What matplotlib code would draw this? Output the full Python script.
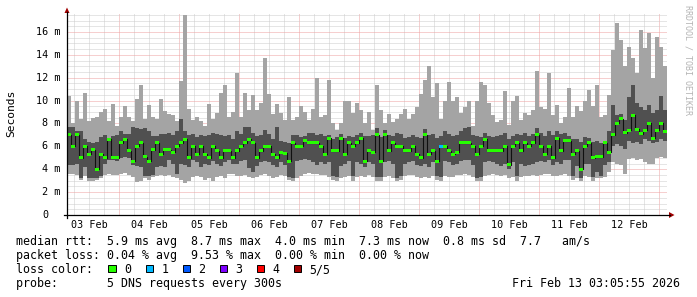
import numpy as np
import matplotlib
matplotlib.use('Agg')
import matplotlib.pyplot as plt
from matplotlib.patches import Polygon, Rectangle
from matplotlib.lines import Line2D

# ---------------- data (ms), one sample = 1.6 h, starting 03 Feb 03:12 ----------------
max_ms = [10.4, 8.0, 10.0, 8.4, 10.7, 8.2, 8.5, 8.6, 9.0, 9.3, 8.2, 9.7, 7.8, 8.6, 9.5, 8.6, 8.2, 10.1, 11.4, 8.4, 9.6, 8.6, 8.4, 10.1, 9.1,
          8.8, 8.7, 8.2, 11.7, 17.5, 9.3, 8.3, 8.6, 8.2, 7.8, 9.7, 8.4, 8.9, 10.7, 11.4, 8.6, 9.0, 12.4, 8.6, 10.7, 9.2, 10.5, 9.2, 9.8, 13.7,
          10.6, 8.8, 9.7, 8.9, 8.3, 10.3, 8.3, 8.6, 9.5, 9.0, 8.3, 9.3, 12.0, 8.6, 8.7, 11.8, 8.0, 7.4, 8.0, 10.0, 10.0, 8.9, 9.8, 9.2, 8.0,
          9.0, 7.4, 11.4, 9.2, 8.0, 8.8, 8.1, 8.4, 8.8, 9.3, 8.4, 8.8, 9.4, 10.6, 11.8, 13.0, 10.3, 11.5, 8.4, 10.0, 11.6, 10.0, 10.3, 8.9, 9.4,
          10.0, 7.8, 10.0, 11.6, 11.4, 9.8, 8.7, 8.1, 8.3, 10.8, 7.9, 10.0, 10.4, 8.3, 8.9, 8.7, 9.2, 12.6, 9.4, 9.3, 12.4, 8.7, 9.6, 8.0, 8.6,
          11.1, 8.6, 9.5, 9.1, 10.0, 10.9, 9.5, 11.4, 8.6, 8.7, 10.5, 14.4, 16.8, 15.3, 13.0, 14.7, 13.7, 12.4, 16.2, 14.6, 15.9, 12.0, 15.6, 14.7, 13.0]
upper_ms = [7.7, 7.7, 7.3, 7.3, 6.6, 6.4, 6.3, 6.4, 6.8, 7.0, 6.7, 6.9, 7.0, 7.3, 7.1, 7.1, 7.7, 7.6, 7.5, 7.6, 7.3, 6.9, 6.9, 7.1, 7.1,
            7.2, 7.0, 7.3, 8.4, 7.3, 7.0, 7.1, 6.8, 7.0, 6.9, 7.0, 7.2, 7.1, 7.0, 6.9, 7.0, 6.6, 7.3, 7.1, 7.7, 7.7, 7.2, 6.9, 7.0, 7.4,
            7.1, 6.6, 7.7, 6.5, 6.4, 6.3, 7.0, 7.0, 6.8, 6.9, 7.2, 7.2, 7.0, 7.1, 6.9, 7.0, 6.6, 6.8, 7.1, 6.7, 6.9, 6.8, 7.0, 7.2, 6.9,
            6.9, 7.0, 7.6, 6.8, 7.4, 7.0, 6.9, 7.2, 7.1, 6.7, 6.8, 7.0, 6.8, 6.7, 7.5, 7.0, 7.1, 6.7, 6.9, 7.3, 7.1, 6.9, 7.0, 7.3, 7.6,
            7.7, 7.0, 6.9, 6.8, 7.2, 6.9, 6.8, 6.9, 7.0, 7.2, 6.6, 6.9, 7.1, 7.0, 7.2, 6.9, 7.1, 7.6, 7.2, 6.9, 7.3, 7.0, 7.3, 7.1, 7.2,
            6.9, 6.6, 6.6, 6.4, 6.8, 6.7, 6.4, 6.5, 6.3, 6.5, 7.3, 9.6, 8.7, 8.8, 8.3, 10.3, 11.4, 9.8, 9.4, 9.2, 9.6, 8.9, 9.2, 10.4, 9.2]
median_ms = [7.0, 6.0, 7.0, 5.0, 6.0, 5.3, 5.7, 4.0, 5.3, 5.0, 6.6, 5.0, 5.0, 6.3, 6.6, 5.6, 4.7, 6.0, 6.3, 5.1, 4.7, 5.7, 6.3, 5.3, 5.7,
             5.7, 5.5, 6.0, 6.3, 6.6, 5.0, 6.0, 5.3, 6.0, 5.3, 5.0, 6.0, 5.6, 5.0, 5.6, 5.6, 5.0, 5.6, 6.0, 6.3, 6.6, 6.3, 5.0, 5.6, 6.0,
             6.0, 5.3, 5.0, 5.5, 5.4, 4.7, 6.3, 6.0, 6.0, 6.5, 6.3, 6.3, 6.3, 6.0, 5.3, 6.7, 5.6, 5.6, 6.7, 5.3, 6.3, 6.0, 6.3, 6.7, 4.7,
             5.6, 5.5, 7.0, 4.7, 7.0, 5.6, 6.3, 6.0, 6.0, 5.6, 5.6, 6.0, 5.3, 5.0, 7.0, 5.3, 5.6, 4.7, 6.0, 6.0, 5.6, 5.3, 5.5, 6.3, 6.3,
             6.3, 6.0, 5.3, 6.0, 6.6, 5.6, 5.6, 5.6, 5.6, 6.0, 4.4, 6.0, 6.3, 5.6, 6.3, 6.0, 6.3, 7.0, 6.0, 5.3, 6.0, 5.0, 6.7, 5.6, 6.5,
             6.5, 5.3, 5.6, 4.0, 6.0, 6.3, 5.0, 5.1, 5.1, 6.3, 5.5, 7.0, 8.0, 8.4, 7.2, 7.4, 8.7, 7.5, 7.1, 7.4, 8.0, 6.7, 7.4, 8.0, 7.3]
lower_ms = [4.4, 4.4, 4.5, 3.2, 4.2, 3.2, 3.2, 3.2, 3.4, 4.5, 4.8, 4.8, 4.7, 5.0, 5.1, 5.0, 4.4, 4.3, 4.2, 3.4, 3.4, 3.5, 4.2, 4.3, 4.2,
            4.8, 4.5, 3.6, 4.5, 4.4, 4.2, 4.8, 4.6, 4.2, 4.5, 4.4, 4.7, 4.5, 4.3, 4.6, 4.8, 4.5, 4.5, 4.7, 4.8, 4.1, 3.8, 4.3, 4.6, 4.7,
            4.6, 4.4, 4.2, 4.6, 4.4, 3.3, 3.2, 4.7, 4.8, 4.9, 4.8, 4.6, 4.4, 4.6, 4.5, 4.6, 3.4, 3.3, 4.3, 4.5, 4.7, 3.4, 4.6, 4.5, 4.2,
            4.6, 4.5, 3.3, 3.3, 4.6, 4.7, 4.5, 3.2, 3.4, 4.5, 4.6, 4.7, 4.4, 4.3, 4.5, 4.2, 4.6, 3.4, 3.3, 4.7, 4.6, 4.4, 4.5, 4.7, 4.8,
            4.8, 4.4, 3.2, 3.3, 4.6, 4.7, 4.6, 4.5, 4.3, 4.5, 4.0, 4.6, 3.4, 4.5, 4.3, 4.4, 4.5, 4.6, 4.7, 4.6, 4.8, 4.4, 4.6, 4.5, 4.8,
            4.8, 3.4, 4.3, 3.2, 4.5, 4.5, 3.3, 3.8, 3.4, 4.4, 4.6, 6.0, 6.2, 6.0, 5.8, 6.5, 6.3, 6.4, 6.2, 6.6, 6.5, 6.3, 6.4, 6.6, 6.5]
min_ms = [3.6, 3.6, 3.5, 3.1, 3.4, 3.0, 3.0, 3.1, 3.2, 3.5, 3.6, 3.5, 3.5, 3.6, 3.7, 3.5, 3.3, 2.9, 3.0, 3.2, 3.1, 3.3, 3.4, 3.5, 3.4,
          3.5, 3.3, 3.2, 3.1, 2.8, 3.0, 3.3, 3.4, 3.3, 3.1, 3.2, 3.0, 3.3, 3.4, 3.2, 3.6, 3.6, 3.4, 3.4, 3.5, 3.3, 3.2, 3.3, 3.5, 3.6,
          3.4, 3.2, 3.3, 3.5, 3.4, 3.1, 3.0, 3.2, 3.4, 3.6, 3.7, 3.6, 3.6, 3.5, 3.5, 3.3, 3.1, 3.0, 3.2, 3.3, 3.4, 3.0, 3.3, 3.4, 3.3,
          3.5, 3.3, 3.0, 3.0, 3.3, 3.4, 3.2, 3.0, 3.1, 3.4, 3.5, 3.5, 3.3, 3.2, 3.3, 3.2, 3.4, 3.1, 3.0, 3.4, 3.3, 3.3, 3.5, 3.5, 3.6,
          3.5, 3.3, 3.0, 3.0, 3.4, 3.5, 3.6, 3.5, 3.4, 3.5, 3.2, 3.3, 3.0, 3.3, 3.4, 3.4, 3.5, 3.4, 3.5, 3.6, 3.6, 3.4, 3.4, 3.5, 3.6,
          3.4, 3.1, 3.2, 3.0, 3.4, 3.3, 3.0, 3.2, 3.2, 3.3, 3.8, 4.6, 4.5, 4.4, 3.6, 4.9, 5.0, 4.8, 4.9, 4.6, 4.5, 4.5, 5.0, 5.1, 5.0]
loss_count = [0] * 150
loss_count[93] = 1

day_labels = ["03 Feb", "04 Feb", "05 Feb", "06 Feb", "07 Feb", "08 Feb", "09 Feb", "10 Feb", "11 Feb", "12 Feb"]
y_ticks = [0, 2, 4, 6, 8, 10, 12, 14, 16]
loss_names = ["0", "1", "2", "3", "4", "5/5"]
loss_colors = ["#26ff00", "#00b8ff", "#0059ff", "#7e00ff", "#ff0000", "#a10000"]

legend_lines = [
    "median rtt:  5.9 ms avg  8.7 ms max  4.0 ms min  7.3 ms now  0.8 ms sd  7.7   am/s",
    "packet loss: 0.04 % avg  9.53 % max  0.00 % min  0.00 % now",
    "loss color:",
    "probe:       5 DNS requests every 300s",
]
date_text = "Fri Feb 13 03:05:55 2026"

# ---------------- figure ----------------
W, H = 697, 297
MONO = "DejaVu Sans Mono"
fig = plt.figure(figsize=(W / 100, H / 100), dpi=100)
fig.patch.set_facecolor("white")

L, R, B, T = 67, 667, 215, 12.5
ax = fig.add_axes([L / W, 1 - B / H, (R - L) / W, (B - T) / H])
ax.set_facecolor("white")
for s in ax.spines.values():
    s.set_visible(False)
ax.set_xticks([]); ax.set_yticks([])

t0, step = 3.2, 1.6
n = len(median_ms)
starts = t0 + step * np.arange(n)
edges = np.append(starts, starts[-1] + step)
ext = lambda a: np.append(np.asarray(a, float), a[-1])
ax.set_xlim(t0, t0 + step * n)
ax.set_ylim(0, 17.7)

# grid (dotted, 1px on / 1px off)
dot = (0, (1, 1))
minor_c, major_c = "#cccccc", "#eea0a0"
for h in range(6, 244, 6):
    if t0 < h < t0 + step * n:
        red = h % 24 == 0
        ax.axvline(h, color=major_c if red else minor_c, lw=0.72, ls=dot, snap=True, zorder=0)
for v in np.arange(0.5, 17.6, 0.5):
    red = abs(v % 2) < 1e-9
    ax.axhline(v, color=major_c if red else minor_c, lw=0.72, ls=dot, snap=True, zorder=0)

# smoke
ax.fill_between(edges, ext(min_ms), ext(max_ms), step="post", color="#a4a4a4", lw=0, zorder=2)
ax.fill_between(edges, ext(lower_ms), ext(upper_ms), step="post", color="#505050", lw=0, zorder=3)
# median
ax.step(edges, ext(median_ms), where="post", color="#101010", lw=0.8, zorder=4)
cols = [loss_colors[c] for c in loss_count]
ax.bar(starts, 0.27, bottom=np.asarray(median_ms) - 0.135, width=step, align="edge",
       color=cols, lw=0, zorder=5)

# ---------------- axes lines / arrows in pixel space ----------------
def P(x, y):
    return (x / W, 1 - y / H)

fig.add_artist(Line2D([P(64, 215)[0], P(670, 215)[0]], [P(64, 215)[1]] * 2, color="black", lw=0.9))
fig.add_artist(Line2D([P(67, 218)[0]] * 2, [P(67, 218)[1], P(67, 12)[1]], color="black", lw=0.9))
fig.add_artist(Polygon([P(669, 212), P(669, 218), P(674.5, 215)], closed=True, color="#a00000", lw=0))
fig.add_artist(Polygon([P(64.5, 13), P(69.5, 13), P(67, 7.5)], closed=True, color="#a00000", lw=0))

# y tick labels
AX_FS = 7.3
adv = 0.602 * AX_FS * 100 / 72
for v in y_ticks:
    s = "0  " if v == 0 else f"{v} m"
    y = 215 - v * (B - T) / 17.7
    fig.text(*P(60 - adv * len(s) + 0.5, y), s.rstrip(), family=MONO, size=AX_FS, ha="left", va="center")

# x tick labels
for k, lab in enumerate(day_labels):
    h = 12 + 24 * k
    x = L + (h - t0) / (step * n) * (R - L)
    fig.text(*P(x, 228.5), lab, family=MONO, size=AX_FS, ha="center", va="baseline")

# axis title and watermark
fig.text(*P(11, 113), "Seconds", family=MONO, size=8.1, rotation=90, ha="center", va="center")
fig.text(*P(688, 5), "RRDTOOL / TOBI OETIKER", family=MONO, size=6, rotation=270,
         ha="center", va="top", color="#b4b4b4")

# legend
LG_FS = 8.4
bases = [245, 259, 273.3, 287]
for txt, yb in zip(legend_lines, bases):
    fig.text(*P(16, yb), txt, family=MONO, size=LG_FS, ha="left", va="baseline")
fig.text(*P(680, bases[3]), date_text, family=MONO, size=LG_FS, ha="right", va="baseline")

sw_x = [108.3, 145.5, 182.5, 219.5, 256.5, 293.5]
for xs, name, c in zip(sw_x, loss_names, loss_colors):
    x0, y0 = P(xs, 272)
    fig.add_artist(Rectangle((x0, y0), 7.4 / W, 7.4 / H, transform=fig.transFigure,
                             facecolor=c, edgecolor="black", lw=0.7))
    fig.text(*P(xs + 15.7, bases[2]), name, family=MONO, size=LG_FS, ha="left", va="baseline")

fig.savefig("out.png", dpi=100, facecolor="white")
